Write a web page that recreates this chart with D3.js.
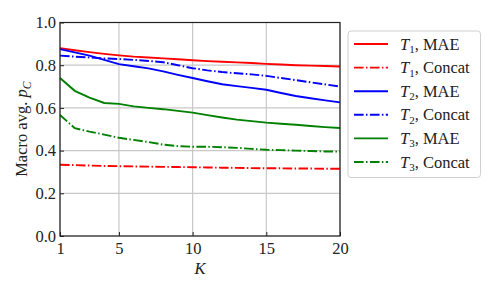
<!DOCTYPE html>
<html lang="en">
<head>
<meta charset="UTF-8">
<title>Macro avg vs K</title>
<script src="https://d3js.org/d3.v7.min.js"></script>
<style>
    body { margin: 0; background: #fff; }
    svg text { font-family: 'Liberation Serif', 'Times New Roman', serif; }
    .grid line { stroke: #c8c8c8; stroke-width: 1.2; }
</style>
</head>
<body>
<svg width="498" height="291"></svg>
<script>
    const ks = d3.range(1, 21);
    const t1Mae = [0.880, 0.870, 0.861, 0.853, 0.846, 0.840, 0.836, 0.832, 0.828, 0.823, 0.819, 0.816, 0.813, 0.810, 0.806, 0.803, 0.800, 0.798, 0.796, 0.794];
    const t1Concat = [0.334, 0.332, 0.330, 0.328, 0.327, 0.326, 0.325, 0.324, 0.323, 0.322, 0.321, 0.320, 0.319, 0.318, 0.317, 0.317, 0.316, 0.316, 0.315, 0.315];
    const t2Mae = [0.875, 0.860, 0.845, 0.825, 0.805, 0.795, 0.785, 0.771, 0.755, 0.740, 0.725, 0.711, 0.702, 0.694, 0.685, 0.670, 0.656, 0.645, 0.635, 0.626];
    const t2Concat = [0.845, 0.840, 0.836, 0.832, 0.829, 0.825, 0.820, 0.814, 0.800, 0.786, 0.776, 0.768, 0.762, 0.757, 0.750, 0.740, 0.730, 0.720, 0.710, 0.700];
    const t3Mae = [0.740, 0.680, 0.648, 0.623, 0.619, 0.607, 0.600, 0.594, 0.586, 0.578, 0.566, 0.555, 0.545, 0.538, 0.531, 0.526, 0.521, 0.515, 0.510, 0.506];
    const t3Concat = [0.567, 0.505, 0.489, 0.475, 0.460, 0.450, 0.440, 0.428, 0.421, 0.418, 0.418, 0.416, 0.413, 0.408, 0.404, 0.402, 0.400, 0.398, 0.396, 0.395];
    const xTicks = [1, 5, 10, 15, 20];
    const yTicks = [0, 0.2, 0.4, 0.6, 0.8, 1.0];

    const series = [
        { task: "1", method: "MAE", color: "#ff0000", dash: null, values: t1Mae },
        { task: "1", method: "Concat", color: "#ff0000", dash: "9.6,2.4,1.5,2.4", values: t1Concat },
        { task: "2", method: "MAE", color: "#0000ff", dash: null, values: t2Mae },
        { task: "2", method: "Concat", color: "#0000ff", dash: "9.6,2.4,1.5,2.4", values: t2Concat },
        { task: "3", method: "MAE", color: "#008000", dash: null, values: t3Mae },
        { task: "3", method: "Concat", color: "#008000", dash: "9.6,2.4,1.5,2.4", values: t3Concat }
    ];

    const mLeft = 60, mRight = 340, mTop = 22.5, mBottom = 236;
    const svg = d3.select("svg");

    const x = d3.scaleLinear().domain([1, 20]).range([mLeft, mRight]);
    const y = d3.scaleLinear().domain([0, 1]).range([mBottom, mTop]);

    // grid
    const grid = svg.append("g").attr("class", "grid");
    grid.selectAll(".gx").data(xTicks).enter().append("line")
        .attr("x1", d => x(d)).attr("x2", d => x(d))
        .attr("y1", mTop).attr("y2", mBottom);
    grid.selectAll(".gy").data(yTicks).enter().append("line")
        .attr("x1", mLeft).attr("x2", mRight)
        .attr("y1", d => y(d)).attr("y2", d => y(d));

    // lines
    const line = d3.line().x((d, i) => x(ks[i])).y(d => y(d));
    svg.append("g").selectAll("path").data(series).enter().append("path")
        .attr("d", d => line(d.values))
        .attr("fill", "none")
        .attr("stroke", d => d.color)
        .attr("stroke-width", 1.9)
        .attr("stroke-dasharray", d => d.dash);

    // axes, ticks pointing inward
    const xAxis = svg.append("g").attr("transform", `translate(0,${mBottom})`)
        .call(d3.axisBottom(x).tickValues(xTicks).tickSizeInner(-4).tickSizeOuter(0).tickPadding(6));
    const yAxis = svg.append("g").attr("transform", `translate(${mLeft},0)`)
        .call(d3.axisLeft(y).tickValues(yTicks).tickFormat(d3.format(".1f")).tickSizeInner(-4).tickSizeOuter(0).tickPadding(4));
    [xAxis, yAxis].forEach(a => {
        a.select(".domain").remove();
        a.selectAll("text").attr("font-size", 16.5).attr("fill", "#222");
        a.selectAll("line").attr("stroke", "#222");
    });
    xAxis.selectAll("text").attr("dy", "0.72em");

    svg.append("rect")
        .attr("x", mLeft).attr("y", mTop)
        .attr("width", mRight - mLeft).attr("height", mBottom - mTop)
        .attr("fill", "none").attr("stroke", "#222").attr("stroke-width", 1.2);

    // axis labels
    svg.append("text")
        .attr("x", x(10.5)).attr("y", 274)
        .attr("text-anchor", "middle").attr("font-size", 16.5)
        .attr("font-style", "italic").attr("fill", "#222").text("K");

    const yl = svg.append("text")
        .attr("transform", `translate(27,${(mTop + mBottom) / 2}) rotate(-90)`)
        .attr("text-anchor", "middle").attr("font-size", 16.5).attr("fill", "#222");
    yl.append("tspan").text("Macro avg. ");
    yl.append("tspan").attr("font-style", "italic").text("p");
    yl.append("tspan").attr("font-style", "italic").attr("font-size", 11.5).attr("dy", 4).text("C");

    // legend
    const lg = svg.append("g").attr("transform", "translate(348,31)");
    lg.append("rect")
        .attr("width", 132.5).attr("height", 146.5).attr("rx", 3)
        .attr("fill", "#fff").attr("stroke", "#d0d0d0").attr("stroke-width", 1);
    const item = lg.selectAll(".item").data(series).enter().append("g")
        .attr("transform", (d, i) => `translate(0,${13 + i * 23.6})`);
    item.append("line")
        .attr("x1", 6).attr("x2", 40)
        .attr("stroke", d => d.color).attr("stroke-width", 1.9)
        .attr("stroke-dasharray", d => d.dash);
    const lt = item.append("text")
        .attr("x", 52).attr("y", 5.5).attr("font-size", 16.5).attr("fill", "#222");
    lt.append("tspan").attr("font-style", "italic").text("T");
    lt.append("tspan").attr("font-size", 11).attr("dy", 3.5).text(d => d.task);
    lt.append("tspan").attr("dy", -3.5).text(d => ", " + d.method);
</script>
</body>
</html>
